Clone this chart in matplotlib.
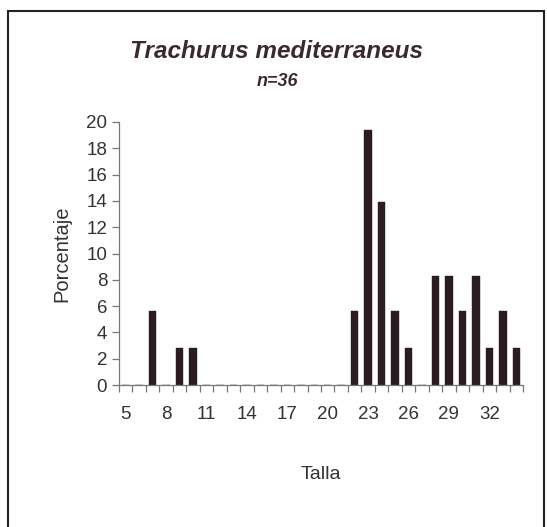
import numpy as np
import matplotlib
matplotlib.use('Agg')
import matplotlib.pyplot as plt
from matplotlib.patches import Rectangle

# talla (cm) y porcentaje de individuos
talla = list(range(5, 35))
porcentaje = [0, 0, 5.6, 0, 2.8, 2.8, 0, 0, 0, 0,
              0, 0, 0, 0, 0, 0, 0, 5.6, 19.4, 13.9,
              5.6, 2.8, 0, 8.3, 8.3, 5.6, 8.3, 2.8, 5.6, 2.8]
tick_labels = [5, 8, 11, 14, 17, 20, 23, 26, 29, 32]
y_ticks = list(range(0, 21, 2))


def main():
    plt.rcParams['font.family'] = ['Liberation Sans', 'DejaVu Sans']
    fig = plt.figure(figsize=(5.47, 5.27), dpi=100)
    fig.patch.set_facecolor('white')

    # marco alrededor del grafico
    fig.add_artist(Rectangle((8 / 547, -0.02), 536 / 547, 1 - 11 / 527 + 0.02,
                             transform=fig.transFigure, fill=False,
                             edgecolor='#222222', linewidth=1.5))

    ax = fig.add_axes([119 / 547, 1 - 385 / 527, (523 - 119) / 547, (385 - 122) / 527])
    ax.bar(talla, porcentaje, width=0.55, color='#2b1d1f', edgecolor='#2b1d1f', linewidth=0.3)

    ax.set_xlim(4.5, 34.5)
    ax.set_ylim(0, 20)
    ax.set_yticks(y_ticks)
    ax.set_xticks(tick_labels)
    ax.set_xticklabels([str(t) for t in tick_labels])
    ax.set_xticks(np.arange(4.5, 35, 1), minor=True)

    for side in ['top', 'right']:
        ax.spines[side].set_visible(False)
    for side in ['left', 'bottom']:
        ax.spines[side].set_color('#777777')
        ax.spines[side].set_linewidth(0.9)

    ax.tick_params(axis='x', which='major', length=0, pad=15, labelsize=13.5, colors='#333333')
    ax.tick_params(axis='x', which='minor', length=5, color='#777777', width=0.9)
    ax.tick_params(axis='y', length=5, color='#777777', width=0.9, labelsize=13.5, labelcolor='#333333')

    ax.set_xlabel('Talla', fontsize=14, color='#333333')
    ax.set_ylabel('Porcentaje', fontsize=14.5, color='#333333')
    ax.xaxis.set_label_coords(0.5, -0.342, transform=ax.transAxes)
    ax.yaxis.set_label_coords(-0.141, 0.5, transform=ax.transAxes)
    ax.xaxis.label.set_va('center')
    ax.yaxis.label.set_va('center')

    fig.text(277 / 547, 1 - 51 / 527, 'Trachurus mediterraneus', ha='center', va='center',
             fontsize=17.5, fontweight='bold', fontstyle='italic', color='#3a2a30')
    fig.text(277 / 547, 1 - 82 / 527, 'n=36', ha='center', va='center',
             fontsize=13, fontweight='bold', fontstyle='italic', color='#3a2a30')

    fig.savefig('out.png', dpi=100, facecolor='white')


if __name__ == '__main__':
    main()
